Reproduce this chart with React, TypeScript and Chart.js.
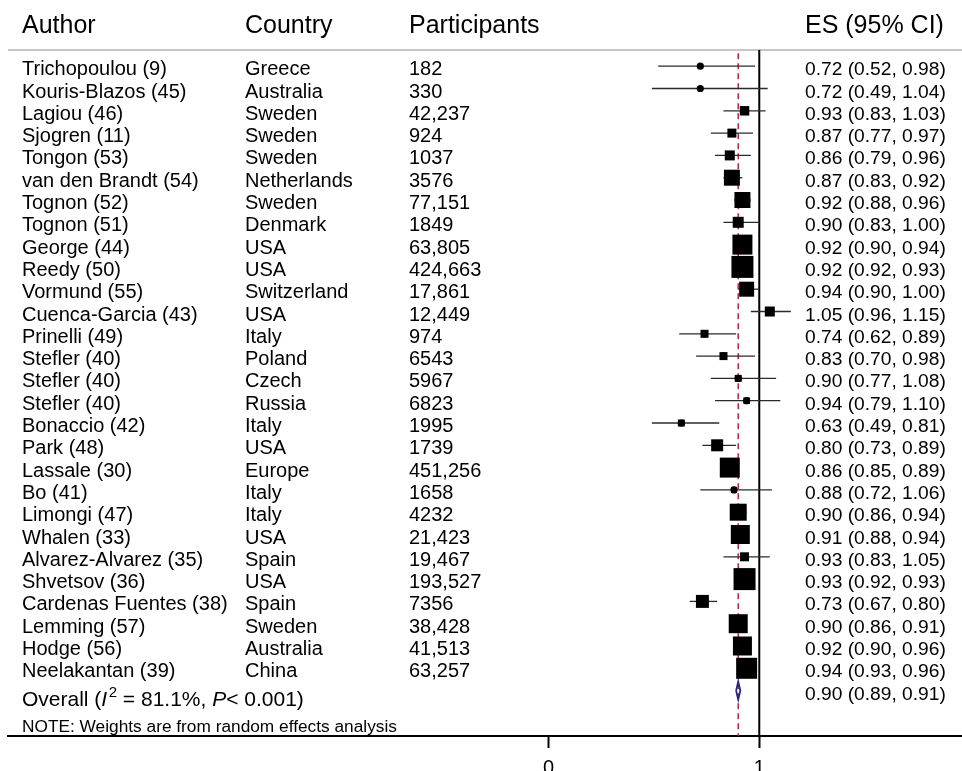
import React, { useEffect, useRef } from "react";
import { Chart, registerables } from "chart.js";

Chart.register(...registerables);

// ---------- data ----------
const authors = [
  "Trichopoulou (9)", "Kouris-Blazos (45)", "Lagiou (46)", "Sjogren (11)", "Tongon (53)",
  "van den Brandt (54)", "Tognon (52)", "Tognon (51)", "George (44)", "Reedy (50)",
  "Vormund (55)", "Cuenca-Garcia (43)", "Prinelli (49)", "Stefler (40)", "Stefler (40)",
  "Stefler (40)", "Bonaccio (42)", "Park (48)", "Lassale (30)", "Bo (41)",
  "Limongi (47)", "Whalen (33)", "Alvarez-Alvarez (35)", "Shvetsov (36)", "Cardenas Fuentes (38)",
  "Lemming (57)", "Hodge (56)", "Neelakantan (39)",
];
const countries = [
  "Greece", "Australia", "Sweden", "Sweden", "Sweden",
  "Netherlands", "Sweden", "Denmark", "USA", "USA",
  "Switzerland", "USA", "Italy", "Poland", "Czech",
  "Russia", "Italy", "USA", "Europe", "Italy",
  "Italy", "USA", "Spain", "USA", "Spain",
  "Sweden", "Australia", "China",
];
const participants = [
  "182", "330", "42,237", "924", "1037",
  "3576", "77,151", "1849", "63,805", "424,663",
  "17,861", "12,449", "974", "6543", "5967",
  "6823", "1995", "1739", "451,256", "1658",
  "4232", "21,423", "19,467", "193,527", "7356",
  "38,428", "41,513", "63,257",
];
const es = [
  0.72, 0.72, 0.93, 0.87, 0.86, 0.87, 0.92, 0.90, 0.92, 0.92,
  0.94, 1.05, 0.74, 0.83, 0.90, 0.94, 0.63, 0.80, 0.86, 0.88,
  0.90, 0.91, 0.93, 0.93, 0.73, 0.90, 0.92, 0.94,
];
const ciLow = [
  0.52, 0.49, 0.83, 0.77, 0.79, 0.83, 0.88, 0.83, 0.90, 0.92,
  0.90, 0.96, 0.62, 0.70, 0.77, 0.79, 0.49, 0.73, 0.85, 0.72,
  0.86, 0.88, 0.83, 0.92, 0.67, 0.86, 0.90, 0.93,
];
const ciHigh = [
  0.98, 1.04, 1.03, 0.97, 0.96, 0.92, 0.96, 1.00, 0.94, 0.93,
  1.00, 1.15, 0.89, 0.98, 1.08, 1.10, 0.81, 0.89, 0.89, 1.06,
  0.94, 0.94, 1.05, 0.93, 0.80, 0.91, 0.96, 0.96,
];
// estimated random-effects weights (%)
const weights = [
  0.29, 0.29, 1.63, 1.46, 1.81, 4.62, 4.62, 2.18, 7.22, 8.74,
  4.06, 1.81, 1.16, 1.16, 0.88, 0.76, 0.88, 2.6, 7.22, 0.65,
  5.22, 6.52, 1.46, 8.74, 3.05, 6.52, 6.52, 7.96,
];
const overallES = 0.9;
const overallLow = 0.89;
const overallHigh = 0.91;
const overallI2 = "81.1%";
const overallP = "< 0.001";
const headers = ["Author", "Country", "Participants", "ES (95% CI)"];
const xTickValues = [0, 1];
const nullValue = 1;
const note = "NOTE: Weights are from random effects analysis";

const FONT = '"Liberation Sans", Arial, Helvetica, sans-serif';

function fmt(v: number) {
  return v.toFixed(2);
}

export default function App() {
  const ref = useRef<HTMLCanvasElement>(null);

  useEffect(() => {
    document.body.style.margin = "0";
    const canvas = ref.current!;
    const n = authors.length;
    const X_MIN = -2.567;
    const X_MAX = 1.9625;
    const Y_MIN = -2.969;
    const Y_MAX = 30.036;
    const HEADER_LINE = -0.726;
    const BOX_K = 7.44; // px per sqrt(weight)

    const ciSets: any[] = authors.map((_, i) => ({
      data: [
        { x: ciLow[i], y: i },
        { x: ciHigh[i], y: i },
      ],
      showLine: true,
      borderColor: "#2b2b2b",
      borderWidth: 1.3,
      pointRadius: 0,
      order: 4,
    }));

    const datasets: any[] = [
      {
        // point estimate dots
        data: es.map((v, i) => ({ x: v, y: i })),
        pointStyle: "circle",
        pointRadius: 3.6,
        pointBackgroundColor: "#000",
        pointBorderWidth: 0,
        order: 1,
      },
      {
        // weight boxes
        data: es.map((v, i) => ({ x: v, y: i })),
        pointStyle: "rect",
        pointRadius: weights.map((w) => (BOX_K * Math.sqrt(w)) / Math.SQRT2),
        pointBackgroundColor: "#000",
        pointBorderWidth: 0,
        order: 2,
      },
      {
        // overall diamond
        data: [
          { x: overallLow, y: n },
          { x: overallES, y: n - 0.4 },
          { x: overallHigh, y: n },
          { x: overallES, y: n + 0.4 },
          { x: overallLow, y: n },
        ],
        showLine: true,
        borderColor: "#1c2a80",
        borderWidth: 1.8,
        pointRadius: 0,
        order: 3,
      },
      ...ciSets,
      {
        // overall effect dashed line
        data: [
          { x: overallES, y: HEADER_LINE + 0.14 },
          { x: overallES, y: Y_MAX },
        ],
        showLine: true,
        borderColor: "#b3283c",
        borderWidth: 1.5,
        borderDash: [6, 4],
        pointRadius: 0,
        order: 5,
      },
      {
        // null line
        data: [
          { x: nullValue, y: HEADER_LINE },
          { x: nullValue, y: Y_MAX },
        ],
        showLine: true,
        borderColor: "#000",
        borderWidth: 2,
        pointRadius: 0,
        order: 6,
      },
      {
        // header separator
        data: [
          { x: X_MIN, y: HEADER_LINE },
          { x: X_MAX, y: HEADER_LINE },
        ],
        showLine: true,
        borderColor: "#c6c6c6",
        borderWidth: 2,
        pointRadius: 0,
        order: 7,
      },
    ];

    const colX = [22, 245, 409, 805];

    const textPlugin = {
      id: "forestText",
      afterDraw(chart: any) {
        const ctx: CanvasRenderingContext2D = chart.ctx;
        const ys = chart.scales.y;
        ctx.save();
        ctx.fillStyle = "#000";
        ctx.textAlign = "left";
        ctx.textBaseline = "alphabetic";

        ctx.font = `25px ${FONT}`;
        const hy = ys.getPixelForValue(-1.5);
        headers.forEach((h, k) => ctx.fillText(h, colX[k], hy));

        for (let i = 0; i < n; i++) {
          const y = ys.getPixelForValue(i) + 9;
          ctx.font = `20px ${FONT}`;
          ctx.fillText(authors[i], colX[0], y);
          ctx.fillText(countries[i], colX[1], y);
          ctx.fillText(participants[i], colX[2], y);
          ctx.font = `19.2px ${FONT}`;
          ctx.fillText(`${fmt(es[i])} (${fmt(ciLow[i])}, ${fmt(ciHigh[i])})`, colX[3], y);
        }

        // overall row
        const oy = ys.getPixelForValue(n);
        ctx.font = `19.2px ${FONT}`;
        ctx.fillText(`${fmt(overallES)} (${fmt(overallLow)}, ${fmt(overallHigh)})`, colX[3], oy + 9);
        const by = oy + 15;
        let x = colX[0];
        const segs: [string, string, number][] = [
          ["Overall (", `21px ${FONT}`, 0],
          ["I", `italic 21px ${FONT}`, 0],
          ["2", `15px ${FONT}`, -9],
          [" = " + overallI2 + ", ", `21px ${FONT}`, 0],
          ["P", `italic 21px ${FONT}`, 0],
          [overallP + ")", `21px ${FONT}`, 0],
        ];
        segs.forEach(([t, f, dy]) => {
          ctx.font = f;
          ctx.fillText(t, x, by + dy);
          x += ctx.measureText(t).width + (t === "I" ? 1.5 : 0);
        });

        ctx.font = `17.3px ${FONT}`;
        ctx.fillText(note, colX[0], ys.getPixelForValue(n + 1.45) + 9);
        ctx.restore();
      },
    };

    const chart = new Chart(canvas, {
      type: "scatter",
      data: { datasets },
      options: {
        animation: false,
        responsive: false,
        events: [],
        layout: { autoPadding: false, padding: { left: 8, right: 0, top: 0, bottom: 0 } },
        plugins: { legend: { display: false }, tooltip: { enabled: false } },
        scales: {
          x: {
            type: "linear",
            min: X_MIN,
            max: X_MAX,
            afterBuildTicks: (scale: any) => {
              scale.ticks = xTickValues.map((v) => ({ value: v }));
            },
            afterFit: (scale: any) => {
              scale.height = 35;
            },
            grid: {
              drawOnChartArea: false,
              drawTicks: true,
              tickLength: 12,
              tickWidth: 2,
              tickColor: "#000",
            },
            border: { display: true, color: "#000", width: 2 },
            ticks: {
              color: "#000",
              padding: 8,
              font: { family: FONT, size: 20 },
              callback: (v: any) => String(v),
            },
          },
          y: {
            type: "linear",
            min: Y_MIN,
            max: Y_MAX,
            reverse: true,
            display: false,
          },
        },
      } as any,
      plugins: [textPlugin],
    });
    return () => chart.destroy();
  }, []);

  return (
    <canvas
      ref={ref}
      width={962}
      height={771}
      style={{ display: "block", width: 962, height: 771 }}
    />
  );
}
